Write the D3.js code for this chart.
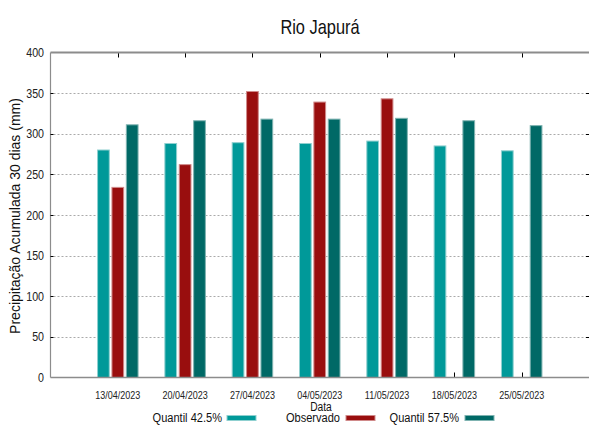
<!DOCTYPE html>
<html><head><meta charset="utf-8">
<script src="https://cdn.jsdelivr.net/npm/d3@7"></script>
<style>
html,body{margin:0;padding:0;background:#fff;}
svg{display:block;}
text{font-family:"Liberation Sans",Arial,sans-serif;}
</style></head>
<body><svg id="chart" width="590" height="425"></svg>
<script>
const dates = ["13/04/2023","20/04/2023","27/04/2023","04/05/2023","11/05/2023","18/05/2023","25/05/2023"];
const quantil425 = [280, 288, 289, 288, 291, 285, 279];
const observado = [234, 262, 352, 339, 343, null, null];
const quantil575 = [311, 316, 318, 318, 319, 316, 310];
const yTicks = [0, 50, 100, 150, 200, 250, 300, 350, 400];
const seriesNames = ["Quantil 42.5%", "Observado", "Quantil 57.5%"];
const seriesColors = ["#009999", "#990e0e", "#006966"];
const seriesStroke = ["#8fd0d0", "#d08a8a", "#7fb3b1"];
const seriesData = [quantil425, observado, quantil575];

const svg = d3.select("#chart");
const L = 50.5, R = 589, T = 52.5, B = 377.5;
const SX = 0.82; // horizontal condensing to mimic a narrow font

function ntext(g, xx, yy, str, size, anchor, fill) {
  return g.append("text")
    .attr("transform", `translate(${xx},${yy}) scale(${SX},1)`)
    .attr("text-anchor", anchor).attr("font-size", size).attr("fill", fill || "#111")
    .text(str);
}

const x = d3.scalePoint().domain(dates).range([L, R]).padding(1);
const sub = d3.scaleBand().domain(seriesNames).range([-20.25, 20.25]).paddingInner(2.5/13.5).paddingOuter(0);
const y = d3.scaleLinear().domain([0, 400]).range([B, T]);

// gridlines
svg.append("g").selectAll("line").data(yTicks.filter(t => t > 0 && t < 400)).join("line")
  .attr("x1", L + 3).attr("x2", R - 3)
  .attr("y1", d => Math.round(y(d)) + 0.5).attr("y2", d => Math.round(y(d)) + 0.5)
  .attr("stroke", "#aaaaaa").attr("stroke-width", 1).attr("stroke-dasharray", "2,2");

// bottom / top ticks (under bars)
svg.append("g").selectAll("line").data(dates).join("line")
  .attr("x1", d => Math.round(x(d)) + 0.5).attr("x2", d => Math.round(x(d)) + 0.5)
  .attr("y1", B - 5).attr("y2", B).attr("stroke", "#000").attr("stroke-width", 1);
svg.append("g").selectAll("line").data(dates).join("line")
  .attr("x1", d => Math.round(x(d)) + 0.5).attr("x2", d => Math.round(x(d)) + 0.5)
  .attr("y1", T).attr("y2", T + 5).attr("stroke", "#000").attr("stroke-width", 1);

// bars
seriesNames.forEach((s, si) => {
  const vals = seriesData[si];
  svg.append("g").selectAll("rect")
    .data(dates.map((d, i) => ({d, v: vals[i]})).filter(o => o.v != null))
    .join("rect")
    .attr("x", o => x(o.d) + sub(s))
    .attr("width", sub.bandwidth())
    .attr("y", o => y(o.v))
    .attr("height", o => y(0) - y(o.v))
    .attr("fill", seriesColors[si])
    .attr("stroke", seriesStroke[si]).attr("stroke-width", 1);
});

// axes lines
svg.append("line").attr("x1", L).attr("x2", R).attr("y1", T).attr("y2", T).attr("stroke", "#8c8c8c").attr("stroke-width", 2);
svg.append("line").attr("x1", L).attr("x2", L).attr("y1", T).attr("y2", B).attr("stroke", "#8c8c8c").attr("stroke-width", 1.2);
svg.append("line").attr("x1", L).attr("x2", R).attr("y1", B).attr("y2", B).attr("stroke", "#8c8c8c").attr("stroke-width", 1.5);

// y ticks
const inner = yTicks.filter(t => t > 0 && t < 400);
svg.append("g").selectAll("line").data(inner).join("line")
  .attr("x1", L).attr("x2", L + 3)
  .attr("y1", d => Math.round(y(d)) + 0.5).attr("y2", d => Math.round(y(d)) + 0.5)
  .attr("stroke", "#000");
svg.append("g").selectAll("line").data(inner).join("line")
  .attr("x1", R - 3).attr("x2", R)
  .attr("y1", d => Math.round(y(d)) + 0.5).attr("y2", d => Math.round(y(d)) + 0.5)
  .attr("stroke", "#000");

// y tick labels
const gy = svg.append("g");
yTicks.forEach(t => ntext(gy, 44, y(t) + 4.5, t, 13, "end", "#222"));

// x tick labels
const gx = svg.append("g");
dates.forEach(d => ntext(gx, x(d), 398.5, d, 11, "middle", "#222"));

// title
ntext(svg, 320, 34, "Rio Japurá", 20, "middle", "#111");

// x axis title
ntext(svg, 321, 411, "Data", 12.5, "middle", "#111");

// y axis title
svg.append("text").attr("transform", "translate(20,216) rotate(-90)")
  .attr("text-anchor", "middle")
  .attr("font-size", 14).attr("fill", "#111").text("Precipitação Acumulada 30 dias (mm)");

// legend
const legTextEnd = [222, 340, 459];
const legSwatch = [227, 346, 465];
seriesNames.forEach((s, i) => {
  ntext(svg, legTextEnd[i], 421.5, s, 13.5, "end", "#111");
  svg.append("rect").attr("x", legSwatch[i]).attr("y", 415.5).attr("width", 29).attr("height", 5)
    .attr("fill", seriesColors[i]).attr("stroke", seriesStroke[i]).attr("stroke-width", 1);
});
</script></body></html>
